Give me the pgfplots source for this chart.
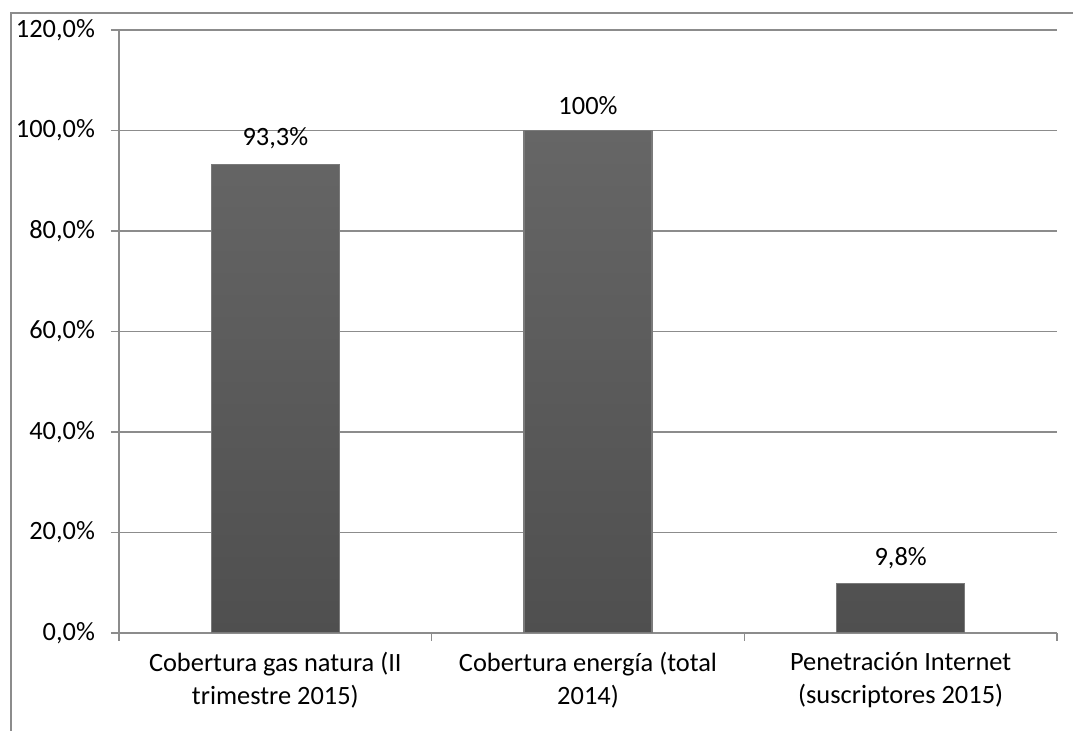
\documentclass[border=0pt]{standalone}
\usepackage{pgfplots}
\pgfplotsset{compat=1.18}
\usepackage{fontspec}
\setmainfont{Carlito}
\definecolor{gridc}{HTML}{8C8C8C}
\definecolor{bart}{HTML}{666666}
\definecolor{barb}{HTML}{4F4F4F}
\definecolor{bard}{HTML}{7A7A7A}
\begin{document}
\begin{tikzpicture}
\path[use as bounding box] (0,0) rectangle (536.5pt,365.5pt);
\draw[gridc,line width=1pt] (5.5pt,0) -- (5.5pt,359pt) -- (536.5pt,359pt);
\begin{axis}[
  at={(59.5pt,49pt)}, anchor=south west,
  scale only axis, width=469pt, height=301.5pt,
  xmin=-0.5, xmax=2.5, ymin=0, ymax=120,
  axis x line*=bottom, axis y line*=left,
  axis line style={gridc, line width=0.8pt, -},
  ymajorgrids, grid style={gridc, line width=0.8pt},
  ytick={0,20,...,120},
  yticklabel={\pgfmathprintnumber[fixed,fixed zerofill,precision=1,use comma]{\tick}\%},
  /pgf/number format/assume math mode=true,
  xtick={0,1,2},
  xticklabels={{Cobertura gas natura (II\\trimestre 2015)},{Cobertura energía (total\\2014)},{Penetración Internet\\(suscriptores 2015)}},
  xticklabel style={align=center, yshift=-2pt},
  minor xtick={-0.5,0.5,1.5,2.5},
  major x tick style={draw=none},
  tick align=outside, major tick length=4pt, minor tick length=4pt,
  tick style={gridc, line width=0.8pt},
  minor tick style={gridc, line width=0.8pt},
  ticklabel style={font=\fontsize{13.2}{16.5}\selectfont},
  yticklabel style={xshift=-4.5pt},
  ybar, bar width=64pt,
  nodes near coords,
  point meta=explicit symbolic,
  nodes near coords style={font=\fontsize{13.2}{16.5}\selectfont, yshift=4pt},
]
\addplot[top color=bart, bottom color=barb, draw=bard, line width=0.6pt] coordinates {
  (0,93.3) [93,3\%]
  (1,100) [100\%]
  (2,9.8) [9,8\%]
};
\end{axis}
\end{tikzpicture}
\end{document}
